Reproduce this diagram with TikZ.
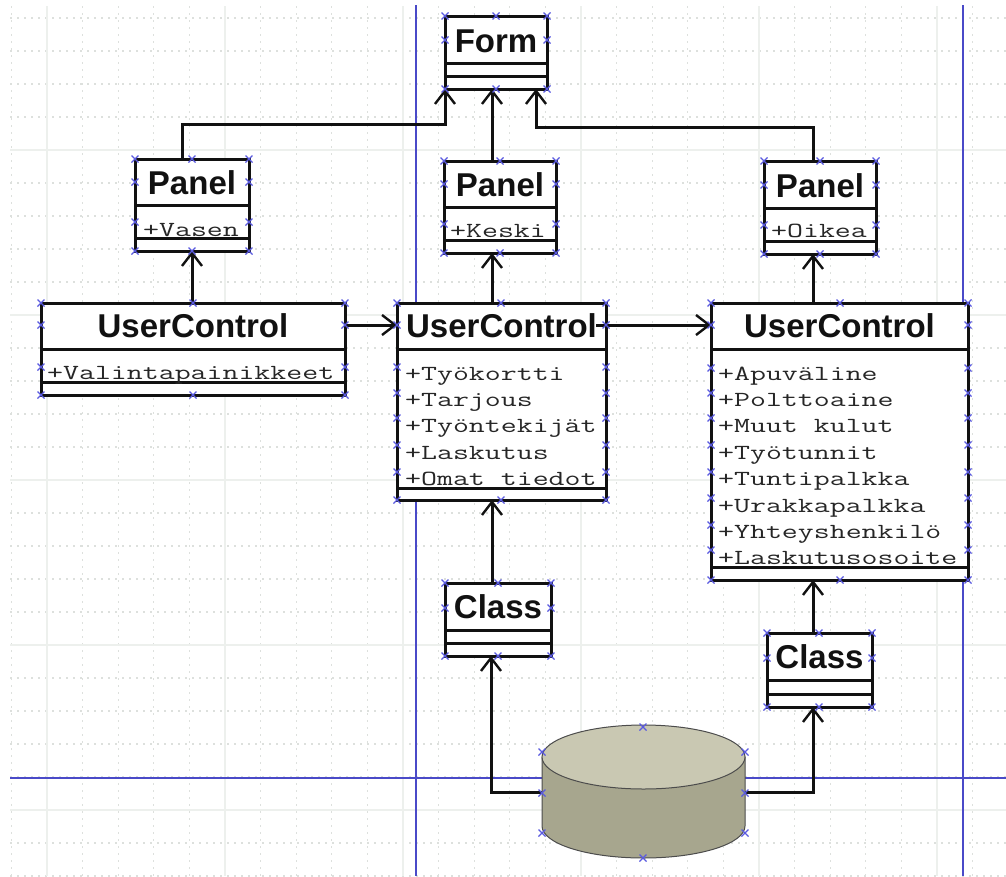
\documentclass[tikz,border=0pt]{standalone}
\usepackage{fontspec}
\setmainfont{Liberation Sans}
\usetikzlibrary{arrows.meta}
\definecolor{bluegrid}{HTML}{4A4AC8}
\definecolor{hndblue}{HTML}{5A5AE0}
\definecolor{gridmin}{HTML}{DDE0DD}
\definecolor{gridmaj}{HTML}{EDF0ED}
\definecolor{cyltop}{HTML}{C9C8B2}
\definecolor{cylside}{HTML}{A7A68E}
\definecolor{ink}{HTML}{111111}
\tikzset{
  umlbox/.style={draw=ink,fill=white,line width=3pt,inner sep=0pt,outer sep=0pt},
  cmpline/.style={draw=ink,line width=3pt},
  umltitle/.style={inner sep=0pt,text=ink,font=\fontsize{33}{33}\selectfont\bfseries},
  attr/.style={inner sep=0pt,text=black!85,anchor=base west,font=\ttfamily\fontsize{21.5}{22}\selectfont},
  conn/.style={draw=ink,line width=3pt,-{Straight Barb[length=13pt,width=20pt,line width=2.4pt]}},
  hnd/.style={draw=hndblue,line width=1.1pt},
  minorgrid/.style={draw=gridmin,line width=1.2pt,dash pattern=on 2pt off 5pt},
  majorgrid/.style={draw=gridmaj,line width=2pt},
  guide/.style={draw=bluegrid,line width=1.6pt},
}
\newcommand\atx[1]{\scalebox{1.44}[1]{#1}}
\newcommand\umlcls[9]{%
  \pgfmathsetmacro\bw{#4-#2}\pgfmathsetmacro\bh{#5-#3}%
  \pgfmathsetmacro\bx{(#2+#4)/2}\pgfmathsetmacro\by{(#3+#5)/2}%
  \node[umlbox,minimum width=\bw pt,minimum height=\bh pt] (#1) at (\bx,\by) {};
  \draw[cmpline] (#2,#6) -- (#4,#6);
  \draw[cmpline] (#2,#7) -- (#4,#7);
  \node[umltitle,anchor=base] (#1t) at (\bx,#9) {#8};
}
\newcommand\hndmarks[1]{%
  \foreach \hx/\hy in {#1}{\draw[hnd] (\hx-3.5,\hy-3.5) -- (\hx+3.5,\hy+3.5) (\hx-3.5,\hy+3.5) -- (\hx+3.5,\hy-3.5);}%
}
\begin{document}
\begin{tikzpicture}[x=1pt,y=-1pt]
\useasboundingbox (0,0) rectangle (1006,876);
\fill[white] (0,0) rectangle (1006,876);
% grid
\foreach \i in {0,...,27}{\pgfmathsetmacro\gx{11.4+35.6*\i}\draw[minorgrid] (\gx,6) -- (\gx,876);}
\foreach \i in {0,...,26}{\pgfmathsetmacro\gy{18+33*\i}\draw[minorgrid] (10,\gy) -- (1006,\gy);}
\foreach \i in {0,...,5}{\pgfmathsetmacro\gx{47+178*\i}\draw[majorgrid] (\gx,6) -- (\gx,876);}
\foreach \i in {0,...,4}{\pgfmathsetmacro\gy{150+165*\i}\draw[majorgrid] (10,\gy) -- (1006,\gy);}
\draw[guide] (416,5) -- (416,876);
\draw[guide] (963,5) -- (963,876);
\draw[guide] (10,778) -- (1006,778);
% classes
\umlcls{form}{445}{16}{547}{89}{63}{76}{Form}{52}
\umlcls{pl}{135}{159}{249}{251}{205}{238}{Panel}{194}
\umlcls{pm}{444}{161}{556}{253}{207}{240}{Panel}{196}
\umlcls{pr}{764}{161}{876}{254}{208}{241}{Panel}{197}
\umlcls{ucl}{41}{303}{345}{395}{349}{382}{UserControl}{337}
\umlcls{ucm}{397}{303}{606}{500}{349}{488}{UserControl}{337}
\umlcls{ucr}{711}{303}{968}{580}{349}{567}{UserControl}{337}
\umlcls{cm}{445}{583}{551}{656}{630}{643}{Class}{618}
\umlcls{cr}{767}{633}{872}{707}{680}{694}{Class}{668}
% attributes
\node[attr] (a1) at (143,236) {\atx{+Vasen}};
\node[attr] (a2) at (450,237) {\atx{+Keski}};
\node[attr] (a3) at (771,237) {\atx{+Oikea}};
\node[attr] (a4) at (47,379) {\atx{+Valintapainikkeet}};
\node[attr] (m1) at (405,380) {\atx{+Työkortti}};
\node[attr] (m2) at (405,406) {\atx{+Tarjous}};
\node[attr] (m3) at (405,432) {\atx{+Työntekijät}};
\node[attr] (m4) at (405,459) {\atx{+Laskutus}};
\node[attr] (m5) at (405,485) {\atx{+Omat tiedot}};
\node[attr] (r1) at (718,380) {\atx{+Apuväline}};
\node[attr] (r2) at (718,406) {\atx{+Polttoaine}};
\node[attr] (r3) at (718,432) {\atx{+Muut kulut}};
\node[attr] (r4) at (718,459) {\atx{+Työtunnit}};
\node[attr] (r5) at (718,485) {\atx{+Tuntipalkka}};
\node[attr] (r6) at (718,512) {\atx{+Urakkapalkka}};
\node[attr] (r7) at (718,538) {\atx{+Yhteyshenkilö}};
\node[attr] (r8) at (718,564) {\atx{+Laskutusosoite}};
% database
\node[inner sep=0pt,outer sep=0pt,minimum width=203pt,minimum height=132pt] (db) at (643.5,792) {};
\draw[conn] (db.west) -| ([xshift=-7pt]cm.south);
\draw[conn] (db.east) -| ([xshift=-6.5pt]cr.south);
\draw[draw=black!70,line width=1pt,fill=cylside] (542,757) -- (542,826) arc[start angle=180,end angle=360,x radius=101.5pt,y radius=32pt] -- (745,757) -- cycle;
\draw[draw=black!70,line width=1pt,fill=cyltop] (643.5,757) ellipse[x radius=101.5pt,y radius=32pt];
% connectors
\draw[conn] ([xshift=-10pt]pl.north) -- ++(0,-35) -| (form.south west);
\draw[conn] ([xshift=-8pt]pm.north) -- ([xshift=-4pt]form.south);
\draw[conn] ([xshift=-7pt]pr.north) -- ++(0,-34) -| ([xshift=40pt]form.south);
\draw[conn] ([xshift=-1pt]ucl.north) -- (pl.south);
\draw[conn] ([xshift=-9.5pt]ucm.north) -- ([xshift=-8pt]pm.south);
\draw[conn] ([xshift=-26.5pt]ucr.north) -- ([xshift=-7pt]pr.south);
\draw[conn] ([yshift=24pt]ucl.east) -- ([yshift=76.5pt]ucm.west);
\coordinate (ucmout) at (596,325);
\draw[conn] (ucmout) -- ([yshift=116.5pt]ucr.west);
\draw[conn] ([xshift=-6pt]cm.north) -- ([xshift=-9.5pt]ucm.south);
\draw[conn] ([xshift=-6.5pt]cr.north) -- ([xshift=-26.5pt]ucr.south);
% handles
\hndmarks{445/16,496/16,547/16,445/40,547/40,445/89,496/89,547/89}
\hndmarks{135/159,192/159,249/159,135/182,249/182,135/222,249/222,135/251,192/251,249/251}
\hndmarks{444/161,500/161,556/161,444/184,556/184,444/224,556/224,444/253,500/253,556/253}
\hndmarks{764/161,820/161,876/161,764/185,876/185,764/225,876/225,764/254,820/254,876/254}
\hndmarks{41/303,193/303,345/303,41/325,345/325,41/367,345/367,41/395,193/395,345/395}
\hndmarks{397/303,501/303,606/303,397/325,606/325,397/367,606/367,397/393,606/393,397/418,606/418,397/445,606/445,397/472,606/472,397/500,501/500,606/500}
\hndmarks{711/303,840/303,968/303,711/325,968/325,711/368,968/368,711/393,968/393,711/418,968/418,711/445,968/445,711/472,968/472,711/498,968/498,711/525,968/525,711/550,968/550,711/580,840/580,968/580}
\hndmarks{445/583,498/583,551/583,445/608,551/608,445/656,498/656,551/656}
\hndmarks{767/633,819/633,872/633,767/658,872/658,767/707,819/707,872/707}
\hndmarks{643/727,542/752,745/752,542/793,745/793,542/833,745/833,643/858}
\end{tikzpicture}
\end{document}
